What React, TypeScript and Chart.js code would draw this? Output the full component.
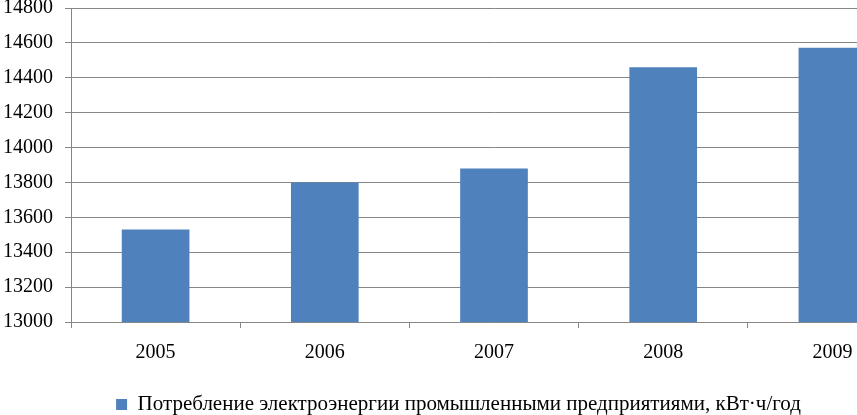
import React, { useEffect, useRef } from "react";
import { Chart, registerables } from "chart.js";

Chart.register(...registerables);

const categories = ["2005", "2006", "2007", "2008", "2009"];
const seriesLabel = "Потребление электроэнергии промышленными предприятиями, кВт·ч/год";
const seriesValues = [13530, 13800, 13880, 14460, 14572];
const yMin = 13000;
const yMax = 14800;
const yStep = 200;

const FONT = "'Liberation Serif', 'Times New Roman', serif";
const GRID = "#868686";
const BAR = "#4F81BD";

export default function App() {
  const ref = useRef<HTMLCanvasElement | null>(null);

  useEffect(() => {
    const canvas = ref.current;
    if (!canvas) return;
    const chart = new Chart(canvas, {
      type: "bar",
      data: {
        labels: categories,
        datasets: [
          {
            label: seriesLabel,
            data: seriesValues,
            backgroundColor: BAR,
            borderWidth: 0,
            categoryPercentage: 1,
            barPercentage: 0.4,
          },
        ],
      },
      options: {
        responsive: false,
        animation: false,
        devicePixelRatio: 1,
        layout: { padding: { top: 8, left: 0, right: 8, bottom: -10 } },
        plugins: {
          tooltip: { enabled: false },
          legend: {
            position: "bottom",
            labels: {
              color: "#000",
              font: { family: FONT, size: 21 },
              boxWidth: 11,
              boxHeight: 11,
              padding: 0,
            },
          },
        },
        scales: {
          x: {
            afterFit: (s: any) => {
              s.height = 72;
            },
            grid: {
              display: true,
              drawOnChartArea: false,
              offset: true,
              color: GRID,
              tickLength: 6,
            },
            border: { display: true, color: GRID, width: 1 },
            ticks: {
              color: "#000",
              font: { family: FONT, size: 20 },
              padding: 13,
              maxRotation: 0,
            },
          },
          y: {
            min: yMin,
            max: yMax,
            afterFit: (s: any) => {
              s.width = 71;
              s.paddingTop = 0;
              s.paddingBottom = 0;
            },
            grid: { color: GRID, tickLength: 6, lineWidth: 1 },
            border: { display: true, color: GRID, width: 1 },
            ticks: {
              stepSize: yStep,
              color: "#000",
              font: { family: FONT, size: 20 },
              padding: 12,
              callback: (v: any) => String(v),
            },
          },
        },
      },
    });
    return () => chart.destroy();
  }, []);

  return (
    <div
      style={{
        position: "fixed",
        left: 0,
        top: 0,
        width: 857,
        height: 415,
        overflow: "hidden",
        background: "#fff",
      }}
    >
      <canvas ref={ref} width={925} height={415} />
    </div>
  );
}
